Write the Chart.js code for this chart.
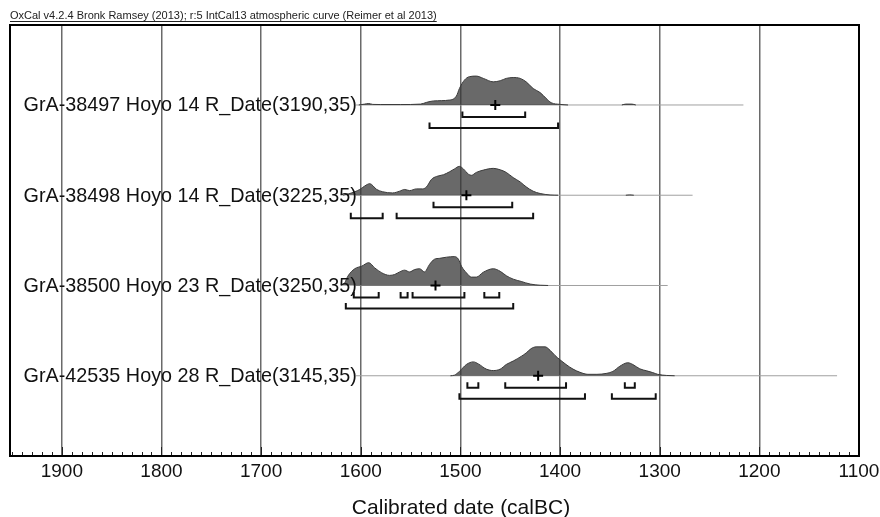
<!DOCTYPE html>
<html><head><meta charset="utf-8">
<script src="https://cdn.jsdelivr.net/npm/chart.js@4.4.1/dist/chart.umd.min.js"></script>
<style>html,body{margin:0;padding:0;background:#fff}#wrap{width:880px;height:517px;position:relative}</style>
</head><body><div id="wrap"><canvas id="c" width="880" height="517"></canvas></div>
<script>
// ---------- DATA ----------
const headerText = 'OxCal v4.2.4 Bronk Ramsey (2013); r:5 IntCal13 atmospheric curve (Reimer et al 2013)';
const axisTitle = 'Calibrated date (calBC)';
const sampleLabels = [
  'GrA-38497 Hoyo 14 R_Date(3190,35)',
  'GrA-38498 Hoyo 14 R_Date(3225,35)',
  'GrA-38500 Hoyo 23 R_Date(3250,35)',
  'GrA-42535 Hoyo 28 R_Date(3145,35)'
];
const tickYears = [1900, 1800, 1700, 1600, 1500, 1400, 1300, 1200, 1100];
const lineStart = 1605;
const lineEnds = [1216, 1267, 1292, 1122];

// null = gap (probability negligible)
const dist1Years = [1602,1596,1592,1588,1580,1560,1540,1534,1527,1511,1504,1501,1496,1491,1484,1477,1467,1460,1454,1447,1440,1434,1427,1420,1414,1409,1400,1392,1370,1338,1334,1328,1324];
const dist1Prob  = [0,0.03,0.05,0.02,0.015,0.015,0.03,0.09,0.14,0.17,0.31,0.57,0.86,0.98,1.0,0.92,0.80,0.84,0.92,0.95,0.92,0.80,0.57,0.43,0.23,0.08,0.02,0,null,0,0.03,0.03,0];

const dist2Years = [1618,1612,1606,1601,1596,1591,1584,1578,1568,1561,1556,1551,1544,1538,1534,1529,1524,1517,1511,1506,1501,1497,1492,1489,1484,1477,1467,1460,1454,1447,1440,1434,1427,1420,1410,1402,1370,1334,1330,1326];
const dist2Prob  = [0,0.05,0.12,0.2,0.32,0.40,0.2,0.12,0.08,0.14,0.2,0.16,0.22,0.22,0.29,0.55,0.65,0.71,0.81,0.91,1.0,0.91,0.73,0.69,0.79,0.87,0.93,0.88,0.79,0.61,0.46,0.29,0.14,0.06,0.01,0,null,0,0.012,0];

const dist3Years = [1620,1616,1613,1606,1599,1592,1586,1579,1571,1566,1561,1556,1551,1546,1541,1536,1531,1526,1521,1514,1506,1502,1499,1494,1489,1484,1477,1467,1460,1454,1447,1439,1430,1420,1412];
const dist3Prob  = [0,0.1,0.32,0.58,0.67,0.79,0.61,0.44,0.35,0.38,0.47,0.53,0.47,0.55,0.58,0.47,0.73,0.91,0.94,0.98,1.0,0.91,0.67,0.44,0.29,0.29,0.46,0.58,0.49,0.34,0.22,0.14,0.05,0.01,0];

const dist4Years = [1510,1506,1501,1494,1487,1482,1474,1467,1460,1454,1447,1439,1434,1429,1424,1415,1410,1405,1400,1394,1387,1380,1372,1363,1353,1347,1340,1332,1327,1320,1313,1307,1302,1293,1285];
const dist4Prob  = [0,0.02,0.15,0.39,0.48,0.41,0.23,0.18,0.23,0.39,0.51,0.67,0.79,0.94,1.0,1.0,0.88,0.70,0.55,0.39,0.23,0.12,0.05,0.05,0.085,0.15,0.33,0.45,0.39,0.24,0.17,0.11,0.05,0.01,0];

const distYears = [dist1Years, dist2Years, dist3Years, dist4Years];
const distProbs = [dist1Prob, dist2Prob, dist3Prob, dist4Prob];

const means = [1465, 1494, 1525, 1422];
const range68 = [
  [[1498,1435]],
  [[1527,1448]],
  [[1607,1582],[1560,1553],[1548,1496],[1476,1461]],
  [[1493,1482],[1455,1394],[1335,1325]]
];
const range95 = [
  [[1531,1402]],
  [[1610,1578],[1564,1427]],
  [[1615,1447]],
  [[1501,1375],[1348,1304]]
];

// ---------- STYLE CONSTANTS ----------
const X_MIN = 1100, X_MAX = 1952;
const Y_MIN = 0.111, Y_MAX = 4.886;
const PEAK = 0.32;
const OFF68 = 0.133, OFF95 = 0.255, TICKH = 0.062;
const FONT = '"Liberation Sans", Arial, sans-serif';

const baseOf = r => 4 - r;

const datasets = [];
sampleLabels.forEach((lab, r) => {
  const b = baseOf(r);
  datasets.push({
    type: 'line', order: 3,
    data: [{x: lineStart, y: b}, {x: lineEnds[r], y: b}],
    borderColor: '#a0a0a0', borderWidth: 1, pointRadius: 0, fill: false
  });
  datasets.push({
    type: 'line', order: 2, spanGaps: false,
    data: distYears[r].map((yr, i) => ({x: yr, y: distProbs[r][i] === null ? null : b + distProbs[r][i] * PEAK})),
    borderColor: '#3a3a3a', borderWidth: 1,
    backgroundColor: 'rgba(55,55,55,0.75)',
    fill: {value: b}, pointRadius: 0, cubicInterpolationMode: 'monotone'
  });
  [[range68[r], OFF68], [range95[r], OFF95]].forEach(([ranges, off]) => {
    const pts = [];
    ranges.forEach(([a, c]) => {
      pts.push({x: a, y: b - off + TICKH}, {x: a, y: b - off}, {x: c, y: b - off}, {x: c, y: b - off + TICKH}, {x: c, y: null});
    });
    datasets.push({
      type: 'line', order: 1, data: pts, spanGaps: false,
      borderColor: '#111', borderWidth: 2, pointRadius: 0, fill: false
    });
  });
  datasets.push({
    type: 'scatter', order: 0,
    data: [{x: means[r], y: b}],
    pointStyle: 'cross', pointRadius: 5, borderWidth: 2, borderColor: '#000'
  });
});

const framePlugin = {
  id: 'frame',
  afterDatasetsDraw(chart) {
    const {ctx, chartArea: ca, scales: {x, y}} = chart;
    ctx.save();
    ctx.font = '19.8px ' + FONT;
    ctx.fillStyle = '#111';
    ctx.textAlign = 'right';
    ctx.textBaseline = 'middle';
    sampleLabels.forEach((lab, r) => {
      ctx.fillText(lab, x.getPixelForValue(lineStart) + 1, y.getPixelForValue(baseOf(r)) + 1);
    });
    ctx.strokeStyle = '#222';
    ctx.lineWidth = 1;
    for (let v = 1110; v <= 1950; v += 10) {
      const px = Math.round(x.getPixelForValue(v)) + 0.5;
      const len = (v % 100 === 0) ? 9 : 4;
      ctx.beginPath();
      ctx.moveTo(px, ca.bottom);
      ctx.lineTo(px, ca.bottom - len);
      ctx.stroke();
    }
    ctx.strokeStyle = '#000';
    ctx.lineWidth = 2;
    ctx.strokeRect(ca.left, ca.top, ca.right - ca.left, ca.bottom - ca.top);
    // header
    ctx.font = '11px ' + FONT;
    ctx.textAlign = 'left';
    ctx.textBaseline = 'alphabetic';
    ctx.fillStyle = '#222';
    ctx.fillText(headerText, 10, 19);
    const w = ctx.measureText(headerText).width;
    ctx.lineWidth = 1;
    ctx.strokeStyle = '#222';
    ctx.beginPath();
    ctx.moveTo(10, 21.5); ctx.lineTo(10 + w, 21.5); ctx.stroke();
    // axis title
    ctx.font = '21px ' + FONT;
    ctx.fillStyle = '#111';
    ctx.textAlign = 'center';
    ctx.textBaseline = 'middle';
    ctx.fillText(axisTitle, 461, 508);
    ctx.restore();
  }
};

new Chart(document.getElementById('c'), {
  data: {datasets},
  options: {
    responsive: false, animation: false,
    layout: {padding: {left: 10, right: 21, top: 25, bottom: 0}},
    plugins: {legend: {display: false}, tooltip: {enabled: false}, title: {display: false}},
    scales: {
      x: {
        type: 'linear', reverse: true, min: X_MIN, max: X_MAX,
        afterBuildTicks: s => { const t = []; for (let v = 1100; v <= 1950; v += 10) t.push({value: v}); s.ticks = t; },
        afterFit: s => { s.height = 61; },
        ticks: {
          autoSkip: false, maxRotation: 0, minRotation: 0, padding: 4,
          color: '#111', font: {family: FONT, size: 19},
          callback: v => tickYears.includes(v) ? String(v) : ''
        },
        grid: {
          drawTicks: false, lineWidth: 1.5,
          color: c => (c.tick && tickYears.includes(c.tick.value)) ? '#6a6a6a' : 'rgba(0,0,0,0)'
        },
        border: {display: false},
        title: {display: false}
      },
      y: {type: 'linear', min: Y_MIN, max: Y_MAX, display: false}
    }
  },
  plugins: [framePlugin]
});
</script></body></html>
